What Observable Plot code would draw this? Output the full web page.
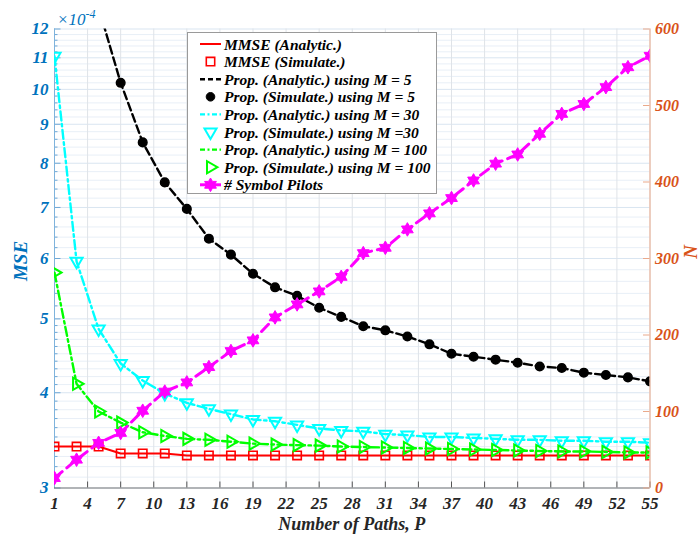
<!DOCTYPE html>
<html>
<head>
<meta charset="utf-8">
<script src="https://cdn.jsdelivr.net/npm/d3@7"></script>
<script src="https://cdn.jsdelivr.net/npm/@observablehq/plot@0.6"></script>
<style>
  body { margin: 0; background: #fff; }
  #wrap { position: relative; width: 700px; height: 536px; overflow: hidden; background: #fff; }
  #wrap > svg { position: absolute; left: 0; top: 0; }
</style>
</head>
<body>
<div id="wrap"></div>
<script>
// ---------------- data ----------------
const paths = [1,3,5,7,9,11,13,15,17,19,21,23,25,27,29,31,33,35,37,39,41,43,45,47,49,51,53,55];
// MSE values in units of 1e-4
const mmse   = [3.40,3.40,3.40,3.33,3.33,3.33,3.31,3.31,3.31,3.31,3.31,3.31,3.31,3.31,3.31,3.31,3.31,3.31,3.31,3.31,3.31,3.31,3.31,3.31,3.31,3.31,3.31,3.31];
const propM5   = [48,19.5,12.8,10.2,8.52,7.55,6.97,6.37,6.07,5.73,5.50,5.36,5.17,5.03,4.89,4.83,4.74,4.63,4.50,4.46,4.42,4.38,4.33,4.31,4.25,4.22,4.19,4.14];
const propM30  = [11.05,5.95,4.85,4.37,4.15,3.99,3.88,3.81,3.75,3.69,3.67,3.63,3.59,3.57,3.56,3.53,3.52,3.50,3.50,3.49,3.48,3.47,3.47,3.46,3.46,3.45,3.45,3.44];
const propM100 = [5.75,4.11,3.78,3.655,3.55,3.51,3.48,3.47,3.45,3.43,3.42,3.415,3.41,3.40,3.395,3.39,3.385,3.38,3.375,3.37,3.365,3.36,3.355,3.35,3.35,3.345,3.34,3.34];
const pilots   = [13,37,59,72,101,126,138,158,179,193,223,240,257,276,307,314,338,359,379,402,424,436,463,489,502,524,550,565];

const xTicks = [1,4,7,10,13,16,19,22,25,28,31,34,37,40,43,46,49,52,55];
const yTicks = [3,4,5,6,7,8,9,10,11,12];
const nTicks = [0,100,200,300,400,500,600];
const xLabel = "Number of Paths, P";
const yLabel = "MSE";
const nLabel = "N";
const legendLabels = [
  "MMSE (Analytic.)",
  "MMSE (Simulate.)",
  "Prop. (Analytic.) using M = 5",
  "Prop. (Simulate.) using M = 5",
  "Prop. (Analytic.) using M = 30",
  "Prop. (Simulate.) using M =30",
  "Prop. (Analytic.) using M = 100",
  "Prop. (Simulate.) using M = 100",
  "# Symbol Pilots"
];

const rows = paths.map((p, i) => ({P: p, mmse: mmse[i], m5: propM5[i], m30: propM30[i], m100: propM100[i], N: pilots[i]}));

// ---------------- layout / style ----------------
const W = 700, H = 536, mL = 54, mR = 50.5, mT = 28.5, mB = 48.5;
const innerW = W - mL - mR, innerH = H - mT - mB;
const SERIF = "'Liberation Serif', 'Times New Roman', serif";
const BLUE = "#0072BD", ORANGE = "#D95319";
const C_RED = "#ff0000", C_BLK = "#000000", C_CYAN = "#00ffff", C_GRN = "#00ff00", C_MAG = "#ff00ff";

// minor grid values (decoration)
const yMinor = [];
for (let v = 3.1; v < 5; v += 0.1) if (Math.abs(v - Math.round(v)) > 0.01) yMinor.push(+v.toFixed(2));
for (let v = 5.2; v < 12; v += 0.2) if (Math.abs(v - Math.round(v)) > 0.01) yMinor.push(+v.toFixed(2));

// custom symbols
const sqSym = {draw(c, s) { const r = Math.sqrt(s / Math.PI); c.rect(-r, -r, 2 * r, 2 * r); }};
function triSym(angles) {
  return {draw(c, s) {
    const r = Math.sqrt(s / Math.PI);
    angles.forEach((a, k) => {
      const t = a * Math.PI / 180, x = r * Math.cos(t), y = r * Math.sin(t);
      k ? c.lineTo(x, y) : c.moveTo(x, y);
    });
    c.closePath();
  }};
}
const triDown = triSym([90, 210, 330]);
const triRight = triSym([0, 120, 240]);
const hexagram = {draw(c, s) {
  const r = Math.sqrt(s / Math.PI), ri = r * 0.577;
  for (let k = 0; k < 12; k++) {
    const t = (-90 + k * 30) * Math.PI / 180, rr = k % 2 ? ri : r;
    const x = rr * Math.cos(t), y = rr * Math.sin(t);
    k ? c.lineTo(x, y) : c.moveTo(x, y);
  }
  c.closePath();
}};

const tickFont = {fontFamily: SERIF, fontWeight: "bold", fontStyle: "italic"};
const DASH = "8,4", DASHDOT = "9,3.5,2.5,3.5";

// ---------------- left-axis plot ----------------
const plot1 = Plot.plot({
  width: W, height: H, marginLeft: mL, marginRight: mR, marginTop: mT, marginBottom: mB,
  x: {domain: [1, 55], label: null},
  y: {type: "log", domain: [3, 12], label: null},
  style: {background: "transparent", fontFamily: SERIF},
  marks: [
    Plot.ruleY(yMinor, {stroke: "#e8eff7", strokeWidth: 1}),
    Plot.ruleY(yTicks, {stroke: "#d9e5f1", strokeWidth: 1}),
    Plot.ruleX(xTicks, {stroke: "#dfe3e8", strokeWidth: 1}),
    // inward tick marks
    Plot.ruleY(yMinor, {stroke: "#6fa8d6", strokeWidth: 1, insetRight: innerW - 3.5}),
    Plot.ruleY(yTicks, {stroke: "#6fa8d6", strokeWidth: 1, insetRight: innerW - 6.5}),
    Plot.ruleX(xTicks, {stroke: "#555", strokeWidth: 1, insetTop: innerH - 6}),
    // axis lines
    Plot.ruleX([paths[0]], {stroke: "#7fb3dc", strokeWidth: 1}),
    Plot.ruleY([yTicks[0]], {stroke: "#777", strokeWidth: 1}),
    Plot.axisX({ticks: xTicks, tickSize: 0, tickPadding: 9, label: null, fontSize: 17, fill: "#262626", ...tickFont}),
    Plot.axisY({ticks: yTicks, tickSize: 0, tickPadding: 6, label: null, tickFormat: d => String(d), fontSize: 17, fill: BLUE, ...tickFont}),
    // MMSE
    Plot.line(rows, {x: "P", y: "mmse", stroke: C_RED, strokeWidth: 2, clip: true}),
    Plot.dot(rows, {x: "P", y: "mmse", symbol: sqSym, r: 4.2, stroke: C_RED, strokeWidth: 1.6, fill: "none", clip: true}),
    // M = 5
    Plot.line(rows, {x: "P", y: "m5", stroke: C_BLK, strokeWidth: 2.4, strokeDasharray: DASH, clip: true}),
    Plot.dot(rows, {x: "P", y: "m5", symbol: "circle", r: 4.3, fill: C_BLK, stroke: C_BLK, clip: true}),
    // M = 30
    Plot.line(rows, {x: "P", y: "m30", stroke: C_CYAN, strokeWidth: 2.4, strokeDasharray: DASHDOT, clip: true}),
    Plot.dot(rows, {x: "P", y: "m30", symbol: triDown, r: 7, stroke: C_CYAN, strokeWidth: 2, fill: "none", clip: true}),
    // M = 100
    Plot.line(rows, {x: "P", y: "m100", stroke: C_GRN, strokeWidth: 2.4, strokeDasharray: DASHDOT, clip: true}),
    Plot.dot(rows, {x: "P", y: "m100", symbol: triRight, r: 7, stroke: C_GRN, strokeWidth: 2, fill: "none", clip: true})
  ]
});

// ---------------- right-axis plot ----------------
const plot2 = Plot.plot({
  width: W, height: H, marginLeft: mL, marginRight: mR, marginTop: mT, marginBottom: mB,
  x: {domain: [1, 55], axis: null, label: null},
  y: {domain: [0, 600], label: null},
  style: {background: "transparent", fontFamily: SERIF},
  marks: [
    Plot.ruleX([paths[paths.length - 1]], {stroke: "#eaa98b", strokeWidth: 1}),
    Plot.ruleY(nTicks, {stroke: "#eaa98b", strokeWidth: 1, insetLeft: innerW - 6.5}),
    Plot.axisY({anchor: "right", ticks: nTicks, tickSize: 0, tickPadding: 5, label: null, fontSize: 16, fill: ORANGE, ...tickFont}),
    Plot.line(rows, {x: "P", y: "N", stroke: C_MAG, strokeWidth: 3, strokeDasharray: "10,6", clip: true}),
    Plot.dot(rows, {x: "P", y: "N", symbol: hexagram, r: 6.8, fill: C_MAG, stroke: C_MAG, strokeWidth: 1, clip: true})
  ]
});

const wrap = document.getElementById("wrap");
wrap.appendChild(plot1);
wrap.appendChild(plot2);

// ---------------- annotations & legend ----------------
const ann = d3.select(wrap).append("svg").attr("width", W).attr("height", H)
  .style("font-family", SERIF);

ann.append("text").attr("x", mL + innerW / 2).attr("y", 530).attr("text-anchor", "middle")
  .attr("font-size", 18).attr("font-weight", "bold").attr("font-style", "italic").attr("fill", "#262626")
  .text(xLabel);
ann.append("text").attr("transform", `translate(27,${mT + innerH / 2 + 3}) rotate(-90)`).attr("text-anchor", "middle")
  .attr("font-size", 19).attr("font-weight", "bold").attr("font-style", "italic").attr("fill", BLUE)
  .text(yLabel);
ann.append("text").attr("transform", `translate(697,252) rotate(-90)`).attr("text-anchor", "middle")
  .attr("font-size", 19).attr("font-weight", "bold").attr("font-style", "italic").attr("fill", ORANGE)
  .text(nLabel);
const ex = ann.append("text").attr("x", 57).attr("y", 25).attr("font-size", 17).attr("font-style", "italic").attr("fill", BLUE);
ex.append("tspan").text("\u00d710");
ex.append("tspan").attr("dy", -7).attr("font-size", 12).text("-4");

// legend
const lg = ann.append("g");
lg.append("rect").attr("x", 187.5).attr("y", 32.5).attr("width", 249).attr("height", 161)
  .attr("fill", "#fff").attr("stroke", "#9a9a9a").attr("stroke-width", 1);
const items = [
  {line: C_RED, w: 2, dash: null},
  {sym: sqSym, r: 4.2, stroke: C_RED, fill: "none", sw: 1.6},
  {line: C_BLK, w: 2.4, dash: "5,3"},
  {sym: d3.symbolCircle, r: 4.3, stroke: C_BLK, fill: C_BLK, sw: 1},
  {line: C_CYAN, w: 2.4, dash: "5,2.5,2,2.5"},
  {sym: triDown, r: 7, stroke: C_CYAN, fill: "none", sw: 2},
  {line: C_GRN, w: 2.4, dash: "5,2.5,2,2.5"},
  {sym: triRight, r: 7, stroke: C_GRN, fill: "none", sw: 2},
  {line: C_MAG, w: 3, dash: null, sym: hexagram, r: 6.8, stroke: C_MAG, fill: C_MAG, sw: 1}
];
items.forEach((it, i) => {
  const cy = 44 + i * 17.6;
  if (it.line) {
    lg.append("line").attr("x1", 200).attr("x2", 221).attr("y1", cy).attr("y2", cy)
      .attr("stroke", it.line).attr("stroke-width", it.w).attr("stroke-dasharray", it.dash);
  }
  if (it.sym) {
    lg.append("path").attr("transform", `translate(210.5,${cy})`)
      .attr("d", d3.symbol(it.sym, it.r * it.r * Math.PI)())
      .attr("fill", it.fill).attr("stroke", it.stroke).attr("stroke-width", it.sw);
  }
  lg.append("text").attr("x", 224).attr("y", cy + 5.5).attr("font-size", 15.5)
    .attr("font-weight", "bold").attr("font-style", "italic").attr("fill", "#000")
    .text(legendLabels[i]);
});
</script>
</body>
</html>
